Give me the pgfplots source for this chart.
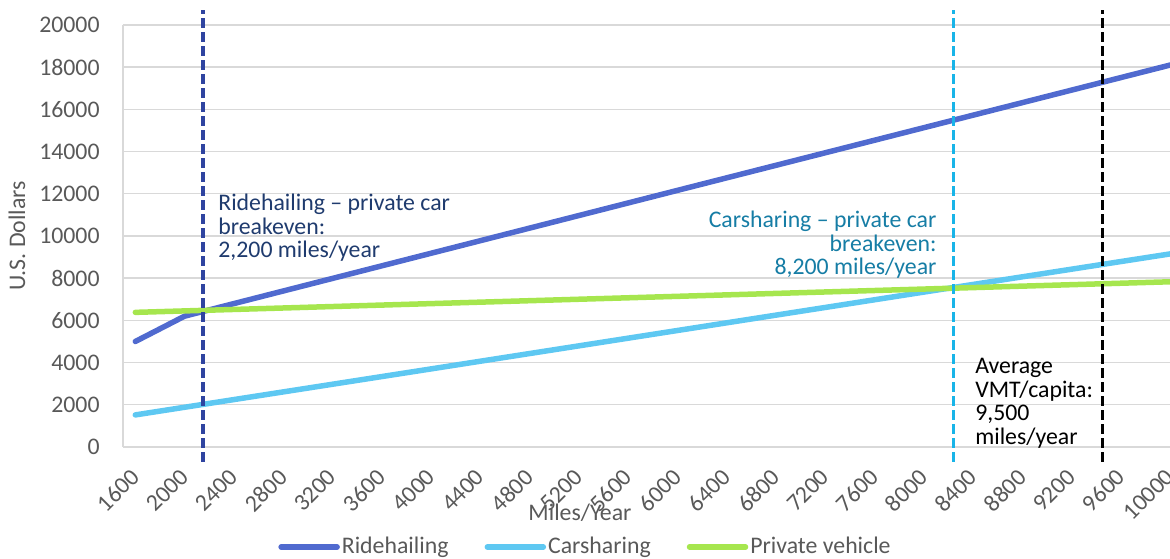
\documentclass[border=0pt]{standalone}
\usepackage{fontspec}
\setmainfont{Carlito}
\usepackage{pgfplots}
\pgfplotsset{compat=1.18}
\usetikzlibrary{calc}

\definecolor{ridecol}{RGB}{80,106,207}
\definecolor{carcol}{RGB}{94,200,242}
\definecolor{privcol}{RGB}{166,230,78}
\definecolor{ridedash}{RGB}{47,68,160}
\definecolor{cardash}{RGB}{24,180,232}
\definecolor{ridetext}{RGB}{31,59,110}
\definecolor{cartext}{RGB}{22,125,165}
\definecolor{labelgray}{RGB}{89,89,89}
\definecolor{gridgray}{RGB}{217,217,217}

\newcommand{\chartfont}{\fontsize{11.9}{11.75}\selectfont}

\begin{document}
\begin{tikzpicture}
\begin{axis}[
    scale only axis,
    width=523.5pt, height=211pt,
    xmin=1500, xmax=10000,
    ymin=0, ymax=20000,
    xtick={1600,2000,2400,2800,3200,3600,4000,4400,4800,5200,5600,6000,6400,6800,7200,7600,8000,8400,8800,9200,9600,10000},
    ytick={0,2000,4000,6000,8000,10000,12000,14000,16000,18000,20000},
    scaled ticks=false,
    ymajorgrids,
    grid style={draw=gridgray, line width=0.7pt},
    axis x line*=bottom,
    axis y line*=left,
    axis line style={draw=gridgray, line width=0.7pt, -},
    major tick length=0pt,
    tick label style={font=\chartfont, text=labelgray},
    /pgf/number format/assume math mode=true,
    /pgf/number format/fixed,
    /pgf/number format/precision=0,
    /pgf/number format/1000 sep={},
    xticklabel style={rotate=45, anchor=east, inner sep=0pt},
    xticklabel shift=13pt,
    yticklabel style={anchor=east, inner sep=0pt, xshift=-11.5pt},
    clip=false,
    legend columns=3,
    legend style={
        at={(rel axis cs:0.4417,0)}, anchor=center, yshift=-50pt,
        draw=none, fill=none, font=\chartfont, text=labelgray,
        inner sep=0pt, nodes={inner xsep=1pt},
        /tikz/every even column/.append style={column sep=17pt},
    },
    legend image code/.code={
        \draw[#1, line cap=round] (0pt,0pt) -- (28pt,0pt);
    },
]

% Ridehailing
\addplot[ridecol, line width=2.75pt, line cap=round, line join=round] coordinates {
    (1600,5000) (2000,6200) (4000,9180) (6000,12160) (8000,15130) (10000,18100)
};
% Carsharing
\addplot[carcol, line width=2.75pt, line cap=round, line join=round] coordinates {
    (1600,1520) (4000,3700) (6000,5520) (8000,7340) (10000,9150)
};
% Private vehicle
\addplot[privcol, line width=2.75pt, line cap=round, line join=round] coordinates {
    (1600,6380) (4000,6795) (6000,7140) (8000,7485) (10000,7830)
};
\legend{Ridehailing, Carsharing, Private vehicle}

% breakeven markers
\addplot[ridedash, line width=1.65pt, dash pattern=on 5pt off 2pt, forget plot]
    coordinates {(2150,-700) (2150,20700)};
\addplot[cardash, line width=1.65pt, dash pattern=on 5pt off 2pt, forget plot]
    coordinates {(8240,-700) (8240,20700)};
\addplot[black, line width=1.65pt, dash pattern=on 5pt off 2pt, forget plot]
    coordinates {(9450,-700) (9450,20700)};

\node[anchor=north west, align=left, inner sep=0pt, font=\chartfont, text=ridetext]
    at (axis cs:2271,12000) {Ridehailing – private car\\breakeven:\\2,200 miles/year};
\node[anchor=north east, align=right, inner sep=0pt, font=\chartfont, text=cartext]
    at (axis cs:8107,11190) {Carsharing – private car\\breakeven:\\8,200 miles/year};
\node[anchor=north west, align=left, inner sep=0pt, font=\chartfont, text=black]
    at (axis cs:8416,4220) {Average\\VMT/capita:\\9,500\\miles/year};

% axis titles
\node[rotate=90, inner sep=0pt, font=\chartfont, text=labelgray]
    at ([xshift=-53pt]rel axis cs:0,0.5) {U.S. Dollars};
\node[anchor=base, inner sep=0pt, font=\chartfont, text=labelgray]
    at ([yshift=-37pt]rel axis cs:0.4365,0) {Miles/Year};

\coordinate (bl) at (rel axis cs:0,0);
\coordinate (tr) at (rel axis cs:1,1);
\end{axis}
\pgfresetboundingbox
\path[use as bounding box] ($(bl)+(-61.5pt,-56pt)$) rectangle ($(tr)+(0pt,12.5pt)$);
\end{tikzpicture}
\end{document}
